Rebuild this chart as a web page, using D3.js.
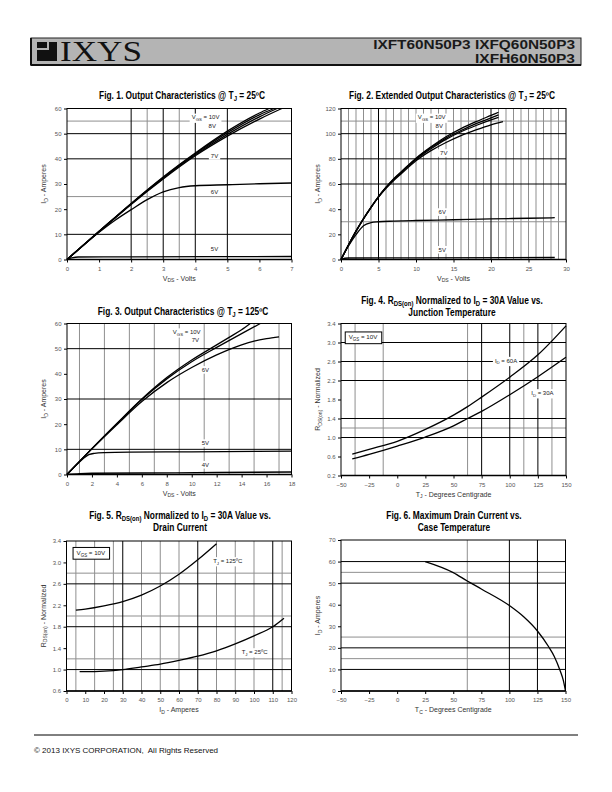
<!DOCTYPE html>
<html>
<head>
<meta charset="utf-8">
<script src="https://cdn.jsdelivr.net/npm/d3@7"></script>
<style>
  body { margin: 0; background: #fff; }
  svg { display: block; }
</style>
</head>
<body>
<svg id="page" width="612" height="792" font-family="'Liberation Sans', Arial, Helvetica, sans-serif"></svg>
<script>
// ================= DATA =================
// Fig. 1  Output characteristics @ TJ = 25C  (VDS volts, ID amperes)
const fig1XTicks = [0, 1, 2, 3, 4, 5, 6, 7];
const fig1YTicks = [0, 10, 20, 30, 40, 50, 60];
const fig1VGS10 = [[0,0],[1,11.2],[2,22.3],[3,32.8],[4,42.3],[5,51.0],[6,58.2],[6.3,60]];
const fig1VGS9  = [[0,0],[1,11.2],[2,22.2],[3,32.6],[4,42.0],[5,50.4],[6,57.5],[6.45,60]];
const fig1VGS8  = [[0,0],[1,11.1],[2,22.1],[3,32.3],[4,41.6],[5,49.7],[6,56.7],[6.55,60]];
const fig1VGS7  = [[0,0],[1,11.0],[2,21.9],[3,32.0],[4,41.2],[5,49.0],[6,55.8],[6.7,60]];
const fig1VGS6  = [[0,0],[0.5,5.6],[1,10.8],[1.5,15.6],[2,19.8],[2.5,23.8],[3,26.9],[3.5,28.6],[4,29.3],[5,29.7],[6,30.1],[7,30.4]];
const fig1VGS5  = [[0,0],[0.15,0.6],[0.35,1.0],[2,1.05],[7,1.2]];

// Fig. 2  Extended output characteristics @ TJ = 25C
const fig2XTicks = [0, 5, 10, 15, 20, 25, 30];
const fig2YTicks = [0, 20, 40, 60, 80, 100, 120];
const fig2VGS10 = [[0,0],[1,11.5],[2,22.5],[3,32.5],[4,41.5],[5,50],[6,57.5],[7,64],[8,69.5],[10,80.5],[12,89.5],[14,97.5],[16,104],[18,109.5],[20,114.5],[21,117]];
const fig2VGS9  = [[0,0],[1,11.5],[2,22.5],[3,32.5],[4,41.5],[5,50],[6,57.3],[7,63.7],[8,69.2],[10,80],[12,89],[14,96.5],[16,102.5],[18,108],[20,112.5],[21,115]];
const fig2VGS8  = [[0,0],[1,11.5],[2,22.5],[3,32.4],[4,41.4],[5,49.8],[6,57.0],[7,63.3],[8,68.8],[10,79.5],[12,88],[14,95.5],[16,101.5],[18,106.5],[20,111],[21,113]];
const fig2VGS7  = [[0,0],[1,11.4],[2,22.3],[3,32.2],[4,41.2],[5,49.5],[6,56.5],[7,62.6],[8,68],[10,78.5],[12,86.5],[14,93],[16,98.5],[18,103],[20,107],[21.6,109.5]];
const fig2VGS6  = [[0,0],[1,10.8],[2,19.8],[3,26.9],[4,29.3],[5,30],[7,30.5],[10,31],[15,31.6],[20,32.3],[25,32.8],[28.5,33.2]];
const fig2VGS5  = [[0,0],[0.5,1.0],[1,1.2],[10,1.3],[28.5,1.6]];

// Fig. 3  Output characteristics @ TJ = 125C
const fig3XTicks = [0, 2, 4, 6, 8, 10, 12, 14, 16, 18];
const fig3YTicks = [0, 10, 20, 30, 40, 50, 60];
const fig3VGS10 = [[0,0],[1,5.2],[2,10.3],[4,20.3],[6,30],[8,38.5],[10,45.5],[12,51.5],[13,54.5],[14,57.5],[14.7,60]];
const fig3VGS7  = [[0,0],[1,5.2],[2,10.3],[4,20.2],[6,29.8],[8,38],[10,44.8],[12,50.5],[14,56],[15.5,60]];
const fig3VGS6  = [[0,0],[1,5.1],[2,10.2],[4,19.8],[6,29],[8,36.5],[10,42.5],[12,47.5],[14,51.5],[15,53],[16,54],[17,54.7]];
const fig3VGS5  = [[0,0],[1,5],[1.8,8],[2.2,8.4],[3,8.7],[5,8.9],[10,9.0],[18,9.3]];
const fig3VGS4  = [[0,0],[1,0.35],[2,0.5],[6,0.6],[12,0.8],[18,1.0]];

// Fig. 4  RDS(on) normalized vs junction temperature
const fig4XTicks = [-50, -25, 0, 25, 50, 75, 100, 125, 150];
const fig4YTicks = [0.2, 0.6, 1.0, 1.4, 1.8, 2.2, 2.6, 3.0, 3.4];
const fig4ID60 = [[-40,0.65],[-25,0.75],[0,0.92],[25,1.17],[50,1.47],[62.5,1.65],[75,1.85],[100,2.27],[125,2.74],[150,3.35]];
const fig4ID30 = [[-40,0.55],[-25,0.645],[0,0.82],[25,1.01],[50,1.245],[62.5,1.4],[75,1.55],[100,1.9],[125,2.28],[150,2.69]];

// Fig. 5  RDS(on) normalized vs drain current
const fig5XTicks = [0, 10, 20, 30, 40, 50, 60, 70, 80, 90, 100, 110, 120];
const fig5YTicks = [0.6, 1.0, 1.4, 1.8, 2.2, 2.6, 3.0, 3.4];
const fig5TJ125 = [[5,2.11],[10,2.13],[20,2.19],[30,2.27],[40,2.39],[50,2.56],[60,2.78],[70,3.05],[80,3.35]];
const fig5TJ25  = [[7,0.96],[10,0.96],[20,0.97],[30,1.0],[40,1.05],[50,1.1],[60,1.17],[70,1.25],[80,1.35],[90,1.48],[100,1.63],[110,1.8],[116,1.96]];

// Fig. 6  Maximum drain current vs case temperature
const fig6XTicks = [-50, -25, 0, 25, 50, 75, 100, 125, 150];
const fig6YTicks = [0, 10, 20, 30, 40, 50, 60, 70];
const fig6IDmax = [[25,60],[50,54.9],[62.5,51],[75,47.3],[100,39.6],[112.5,34.5],[125,27.8],[135,20.5],[140,16],[145,9.7],[148,5],[150,0]];

// ================= DRAWING =================
const svg = d3.select("#page");
const SANS = "'Liberation Sans', Arial, Helvetica, sans-serif";
const BOLD_NARROW = "'Liberation Sans Narrow', 'Liberation Sans', Arial, sans-serif";
const TITLE_SIZE = 10;

// rich text: parts are strings or {sub: "..."}
function rich(textSel, parts, size, subShift) {
  const sh = subShift == null ? 0.28 : subShift;
  let shifted = false;
  parts.forEach(p => {
    if (typeof p === "string") {
      const t = textSel.append("tspan").text(p);
      if (shifted) { t.attr("dy", -sh * size); shifted = false; }
    } else {
      textSel.append("tspan").attr("dy", sh * size).attr("font-size", size * 0.72).text(p.sub);
      shifted = true;
    }
  });
  return textSel;
}

// uniform horizontal scale for all figure titles, taken from the Fig. 2 title width
const TITLE_SCALE = (() => {
  const t = svg.append("text").attr("font-size", TITLE_SIZE).attr("font-weight", "bold").attr("font-family", BOLD_NARROW);
  rich(t, ["Fig. 2. Extended Output Characteristics @ T", {sub: "J"}, " = 25ºC"], TITLE_SIZE, 0.2);
  const w = t.node().getComputedTextLength();
  t.remove();
  return 206 / w;
})();

function drawTitle(T) {
  const t = svg.append("text").attr("font-size", TITLE_SIZE).attr("font-weight", "bold")
    .attr("font-family", BOLD_NARROW).attr("fill", "#000").attr("text-anchor", "middle")
    .attr("transform", `translate(${T.cx},${T.y}) scale(${TITLE_SCALE},1)`);
  rich(t, T.parts, TITLE_SIZE, 0.2);
}

function drawChart(c) {
  const b = c.box;
  const x = d3.scaleLinear().domain(c.xDomain).range([b.x0, b.x1]);
  const y = d3.scaleLinear().domain(c.yDomain).range([b.y1, b.y0]);
  const g = svg.append("g");

  // grid
  const grid = g.append("g");
  const vline = (v, col) => grid.append("line").attr("x1", x(v)).attr("x2", x(v))
    .attr("y1", b.y0).attr("y2", b.y1).attr("stroke", col).attr("stroke-width", 1);
  const hline = (v, col) => grid.append("line").attr("y1", y(v)).attr("y2", y(v))
    .attr("x1", b.x0).attr("x2", b.x1).attr("stroke", col).attr("stroke-width", 1);
  (c.vGray || []).forEach(v => vline(v, "#8f8f8f"));
  (c.hGray || []).forEach(v => hline(v, "#8f8f8f"));
  (c.vBlack || []).forEach(v => vline(v, "#000"));
  (c.hBlack || []).forEach(v => hline(v, "#000"));

  // axes
  const xa = g.append("g").attr("transform", `translate(0,${b.y1})`)
    .call(d3.axisBottom(x).tickValues(c.xTicks).tickSize(3).tickSizeOuter(0).tickPadding(4).tickFormat(c.xFmt || d3.format("d")));
  const ya = g.append("g").attr("transform", `translate(${b.x0},0)`)
    .call(d3.axisLeft(y).tickValues(c.yTicks).tickSize(3).tickSizeOuter(0).tickPadding(2.5).tickFormat(c.yFmt || d3.format("d")));
  [xa, ya].forEach(a => {
    a.attr("font-family", SANS).attr("font-size", 6);
    a.selectAll("path").remove();
    a.selectAll("line").attr("stroke", "#000");
    a.selectAll("text").attr("fill", "#555");
  });

  // frame
  g.append("rect").attr("x", b.x0).attr("y", b.y0).attr("width", b.x1 - b.x0).attr("height", b.y1 - b.y0)
    .attr("fill", "none").attr("stroke", "#000").attr("stroke-width", 1);
  g.append("line").attr("x1", b.x0).attr("x2", b.x1).attr("y1", b.y1).attr("y2", b.y1)
    .attr("stroke", "#000").attr("stroke-width", 1.6);

  // labels
  (c.labels || []).forEach(L => {
    const fs = L.boxed ? 6.2 : 6;
    const t = g.append("text").attr("font-size", fs).attr("fill", "#222")
      .attr("text-anchor", "middle").attr("x", x(L.x)).attr("y", y(L.y)).attr("dy", "0.35em");
    rich(t, L.parts, fs);
    const bb = t.node().getBBox();
    const px = L.boxed ? 3.5 : 2, py = L.boxed ? 1.5 : 0.8;
    g.insert("rect", () => t.node())
      .attr("x", bb.x - px).attr("y", bb.y - py).attr("width", bb.width + 2 * px).attr("height", bb.height + 2 * py)
      .attr("fill", "#fff").attr("stroke", L.boxed ? "#000" : "none").attr("stroke-width", 1);
  });

  // curves
  const line = d3.line().x(d => x(d[0])).y(d => y(d[1])).curve(d3.curveMonotoneX);
  c.series.forEach(s => {
    g.append("path").datum(s).attr("d", line).attr("fill", "none")
      .attr("stroke", "#000").attr("stroke-width", 1.3);
  });

  // axis titles
  const xt = g.append("text").attr("font-size", 7).attr("fill", "#333")
    .attr("text-anchor", "middle").attr("x", (b.x0 + b.x1) / 2).attr("y", b.y1 + 21);
  rich(xt, c.xTitle, 7);
  const yt = g.append("text").attr("font-size", 7).attr("fill", "#333").attr("text-anchor", "middle")
    .attr("transform", `translate(${b.x0 - 21},${(b.y0 + b.y1) / 2}) rotate(-90)`);
  rich(yt, c.yTitle, 7);

  c.title.forEach(drawTitle);
}

const fmt1 = d3.format(".1f");
const IDt = ["I", {sub: "D"}, " - Amperes"];
const RDSt = ["R", {sub: "DS(on)"}, " - Normalized"];

drawChart({
  box: {x0: 67, x1: 291.5, y0: 108.5, y1: 259.5},
  xDomain: [0, 7], yDomain: [0, 60], xTicks: fig1XTicks, yTicks: fig1YTicks,
  vBlack: [2, 3, 4, 5], vGray: [2.5, 3.5], hBlack: [10, 40, 50], hGray: [25, 55],
  series: [fig1VGS10, fig1VGS9, fig1VGS8, fig1VGS7, fig1VGS6, fig1VGS5],
  labels: [
    {x: 4.32, y: 56.5, parts: ["V", {sub: "GS"}, " = 10V"]},
    {x: 4.53, y: 53, parts: ["8V"]},
    {x: 4.6, y: 41.2, parts: ["7V"]},
    {x: 4.6, y: 26.8, parts: ["6V"]},
    {x: 4.6, y: 4.2, parts: ["5V"]}
  ],
  xTitle: ["V", {sub: "DS"}, " - Volts"], yTitle: IDt,
  title: [{parts: ["Fig. 1. Output Characteristics @ T", {sub: "J"}, " = 25ºC"], cx: 182, y: 99}]
});

drawChart({
  box: {x0: 341, x1: 566, y0: 108.5, y1: 259.5},
  xDomain: [0, 30], yDomain: [0, 120], xTicks: fig2XTicks, yTicks: fig2YTicks,
  vBlack: [5, 20], vGray: [1,2,3,4,6,7,8,9,10,11,12,13,14,15,16,17,18,19,21,22,23,24,25,26,27,28,29],
  hBlack: [60, 80, 100], hGray: [30, 110],
  series: [fig2VGS10, fig2VGS9, fig2VGS8, fig2VGS7, fig2VGS6, fig2VGS5],
  labels: [
    {x: 12.1, y: 113, parts: ["V", {sub: "GS"}, " = 10V"]},
    {x: 13.1, y: 106, parts: ["8V"]},
    {x: 13.7, y: 84.7, parts: ["7V"]},
    {x: 13.5, y: 37.8, parts: ["6V"]},
    {x: 13.5, y: 7.8, parts: ["5V"]}
  ],
  xTitle: ["V", {sub: "DS"}, " - Volts"], yTitle: IDt,
  title: [{parts: ["Fig. 2. Extended Output Characteristics @ T", {sub: "J"}, " = 25ºC"], cx: 452, y: 99}]
});

drawChart({
  box: {x0: 67, x1: 291.5, y0: 323.5, y1: 474.5},
  xDomain: [0, 18], yDomain: [0, 60], xTicks: fig3XTicks, yTicks: fig3YTicks,
  vGray: [1, 3, 5, 7, 9, 11, 13, 15, 17], hBlack: [10, 30, 50],
  series: [fig3VGS10, fig3VGS7, fig3VGS6, fig3VGS5, fig3VGS4],
  labels: [
    {x: 9.6, y: 56.6, parts: ["V", {sub: "GS"}, " = 10V"]},
    {x: 10.3, y: 53.5, parts: ["7V"]},
    {x: 11.1, y: 41.6, parts: ["6V"]},
    {x: 11.1, y: 12.5, parts: ["5V"]},
    {x: 11.1, y: 3.9, parts: ["4V"]}
  ],
  xTitle: ["V", {sub: "DS"}, " - Volts"], yTitle: IDt,
  title: [{parts: ["Fig. 3. Output Characteristics @ T", {sub: "J"}, " = 125ºC"], cx: 183, y: 315}]
});

drawChart({
  box: {x0: 341, x1: 566, y0: 323.5, y1: 475.5},
  xDomain: [-50, 150], yDomain: [0.2, 3.4], xTicks: fig4XTicks, yTicks: fig4YTicks, yFmt: fmt1,
  vBlack: [75, 100, 125], vGray: [-37.5, -12.5, 62.5, 112.5, 137.5],
  hBlack: [1.0, 1.4, 2.2, 2.6, 3.0], hGray: [1.2],
  series: [fig4ID60, fig4ID30],
  labels: [
    {x: 96.7, y: 2.62, parts: ["I", {sub: "D"}, " = 60A"]},
    {x: 129, y: 1.94, parts: ["I", {sub: "D"}, " = 30A"]},
    {x: -30.4, y: 3.11, parts: ["V", {sub: "GS"}, " = 10V"], boxed: true}
  ],
  xTitle: ["T", {sub: "J"}, " - Degrees Centigrade"], yTitle: RDSt,
  title: [
    {parts: ["Fig. 4. R", {sub: "DS(on)"}, " Normalized to I", {sub: "D"}, " = 30A Value vs."], cx: 452, y: 303.5},
    {parts: ["Junction Temperature"], cx: 452, y: 316}
  ]
});

drawChart({
  box: {x0: 66.5, x1: 291.5, y0: 541, y1: 691},
  xDomain: [0, 120], yDomain: [0.6, 3.4], xTicks: fig5XTicks, yTicks: fig5YTicks, yFmt: fmt1,
  vBlack: [30, 70, 110], vGray: [5, 15, 25, 40, 50, 60, 80, 90, 100, 115],
  hBlack: [1.0, 1.8, 2.6], hGray: [1.2, 2.0, 2.8],
  series: [fig5TJ125, fig5TJ25],
  labels: [
    {x: 13, y: 3.18, parts: ["V", {sub: "GS"}, " = 10V"], boxed: true},
    {x: 86, y: 3.03, parts: ["T", {sub: "J"}, " = 125ºC"]},
    {x: 100.3, y: 1.33, parts: ["T", {sub: "J"}, " = 25ºC"]}
  ],
  xTitle: ["I", {sub: "D"}, " - Amperes"], yTitle: RDSt,
  title: [
    {parts: ["Fig. 5. R", {sub: "DS(on)"}, " Normalized to I", {sub: "D"}, " = 30A Value vs."], cx: 180, y: 518.5},
    {parts: ["Drain Current"], cx: 180, y: 531}
  ]
});

drawChart({
  box: {x0: 341, x1: 565.5, y0: 540, y1: 691},
  xDomain: [-50, 150], yDomain: [0, 70], xTicks: fig6XTicks, yTicks: fig6YTicks,
  vBlack: [100, 125], vGray: [62.5],
  hBlack: [10, 20, 50, 60], hGray: [15, 25, 55],
  series: [fig6IDmax],
  labels: [],
  xTitle: ["T", {sub: "C"}, " - Degrees Centigrade"], yTitle: IDt,
  title: [
    {parts: ["Fig. 6. Maximum Drain Current vs."], cx: 454, y: 518.5},
    {parts: ["Case Temperature"], cx: 454, y: 531}
  ]
});

// ================= HEADER =================
const hdr = svg.append("g");
hdr.append("rect").attr("x", 31).attr("y", 38).attr("width", 550).attr("height", 27)
  .attr("fill", "#b4b4b4").attr("stroke", "#222").attr("stroke-width", 1);
hdr.append("line").attr("x1", 31).attr("x2", 31).attr("y1", 38).attr("y2", 65.5).attr("stroke", "#111").attr("stroke-width", 2);
hdr.append("line").attr("x1", 31).attr("x2", 581).attr("y1", 65).attr("y2", 65).attr("stroke", "#111").attr("stroke-width", 2);
// logo icon
hdr.append("rect").attr("x", 37).attr("y", 42).attr("width", 20).attr("height", 19).attr("fill", "#111");
hdr.append("rect").attr("x", 37).attr("y", 48).attr("width", 12).attr("height", 2).attr("fill", "#b4b4b4");
hdr.append("rect").attr("x", 47).attr("y", 42).attr("width", 2).attr("height", 8).attr("fill", "#b4b4b4");
const logo = hdr.append("text").attr("font-family", "'Liberation Serif', 'Times New Roman', serif")
  .attr("font-size", 29).attr("fill", "#111").text("IXYS");
{
  const w = logo.node().getComputedTextLength();
  logo.attr("transform", `translate(60,61) scale(${82 / w},1)`);
}
function partNo(txt, yb, target) {
  const t = hdr.append("text").attr("font-weight", "bold").attr("font-size", 12.5).attr("fill", "#1a1a1a")
    .attr("text-anchor", "end").text(txt);
  const w = t.node().getComputedTextLength();
  t.attr("transform", `translate(575,${yb}) scale(${target / w},1)`);
}
partNo("IXFT60N50P3 IXFQ60N50P3", 49, 202);
partNo("IXFH60N50P3", 63, 100);

// ================= FOOTER =================
svg.append("line").attr("x1", 34).attr("x2", 578).attr("y1", 735).attr("y2", 735).attr("stroke", "#000").attr("stroke-width", 1);
svg.append("text").attr("x", 34).attr("y", 753).attr("font-size", 8).attr("fill", "#111")
  .style("white-space", "pre").text("© 2013 IXYS CORPORATION,  All Rights Reserved");
</script>
</body>
</html>
